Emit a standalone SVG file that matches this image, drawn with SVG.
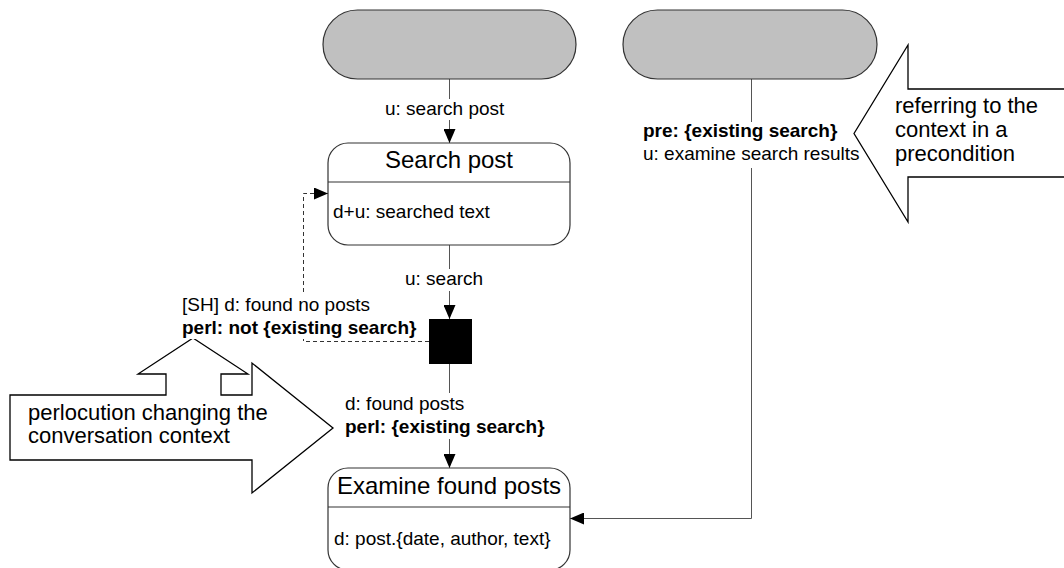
<svg xmlns="http://www.w3.org/2000/svg" width="1064" height="568" viewBox="0 0 1064 568">
  <style>
    text { font-family: "Liberation Sans", Arial, sans-serif; fill: #000; }
    .lbl { font-size: 19px; }
    .b { font-weight: bold; }
    .title { font-size: 24px; text-anchor: middle; }
    .note { font-size: 22px; }
    .pill { fill: #c0c0c0; stroke: #333; stroke-width: 1.2; }
    .state { fill: #fff; stroke: #333; stroke-width: 1.2; }
    .div { stroke: #333; stroke-width: 1.2; }
    .conn { fill: none; stroke: #555; stroke-width: 1; }
    .dash { fill: none; stroke: #333; stroke-width: 1; stroke-dasharray: 4 3; }
    .callout { fill: #fff; stroke: #000; stroke-width: 1.3; stroke-linejoin: miter; }
    .bg { fill: #fff; }
  </style>
  <defs>
    <marker id="arrow" viewBox="0 0 14 12" refX="14" refY="6" markerWidth="14" markerHeight="12" markerUnits="userSpaceOnUse" orient="auto">
      <path d="M0,0 L14,6 L0,12 Z" fill="#000"/>
    </marker>
  </defs>

  <!-- call-out arrows -->
  <g id="note-precondition">
    <polygon class="callout" points="854,133.5 908,45 908,89 1070,89 1070,177 908,177 908,222"/>
    <text class="note" x="895" y="113">referring to the</text>
    <text class="note" x="895" y="137">context in a</text>
    <text class="note" x="895" y="161">precondition</text>
  </g>
  <g id="note-perlocution">
    <polygon class="callout" points="10,395 166,395 166,374 138,374 193,338 248,374 221,374 221,395 252,395 252,363 333,428 252,493 252,460 10,460"/>
    <text class="note" x="28" y="420">perlocution changing the</text>
    <text class="note" x="28" y="443">conversation context</text>
  </g>

  <!-- connectors -->
  <g id="connectors">
    <line class="conn" x1="449.5" y1="79" x2="449.5" y2="143" marker-end="url(#arrow)"/>
    <line class="conn" x1="449.5" y1="245" x2="449.5" y2="319" marker-end="url(#arrow)"/>
    <line class="conn" x1="449.5" y1="364" x2="449.5" y2="468" marker-end="url(#arrow)"/>
    <polyline class="conn" points="751.5,79 751.5,518.5 570,518.5" marker-end="url(#arrow)"/>
    <polyline class="dash" points="429,341.5 303.5,341.5 303.5,193.5 328,193.5" marker-end="url(#arrow)"/>

    <!-- transition labels -->
    <rect class="bg" x="384" y="99" width="124" height="21"/>
    <text class="lbl" x="385" y="115">u: search post</text>

    <rect class="bg" x="404" y="269" width="84" height="22"/>
    <text class="lbl" x="405" y="285">u: search</text>

    <rect class="bg" x="180" y="295" width="240" height="44"/>
    <text class="lbl" x="182" y="311">[SH] d: found no posts</text>
    <text class="lbl b" x="182" y="334">perl: not {existing search}</text>

    <rect class="bg" x="343" y="393" width="208" height="46"/>
    <text class="lbl" x="345" y="410">d: found posts</text>
    <text class="lbl b" x="345" y="433">perl: {existing search}</text>

    <rect class="bg" x="641" y="122" width="212" height="46"/>
    <text class="lbl b" x="643" y="137">pre: {existing search}</text>
    <text class="lbl" x="643" y="160">u: examine search results</text>
  </g>

  <!-- initial states -->
  <g id="start-search">
    <rect class="pill" x="323" y="10" width="253" height="69" rx="34.5"/>
  </g>
  <g id="start-examine">
    <rect class="pill" x="623" y="10" width="254" height="69" rx="34.5"/>
  </g>

  <!-- states -->
  <g id="search-post">
    <rect class="state" x="328" y="143" width="242" height="102" rx="20"/>
    <line class="div" x1="328" y1="182" x2="570" y2="182"/>
    <text class="title" x="449" y="168">Search post</text>
    <text class="lbl" x="333" y="218">d+u: searched text</text>
  </g>

  <g id="decision">
    <rect x="429" y="319" width="43" height="45" fill="#000"/>
  </g>

  <g id="examine-found-posts">
    <rect class="state" x="328" y="468" width="242" height="102" rx="20"/>
    <line class="div" x1="328" y1="507" x2="570" y2="507"/>
    <text class="title" x="449" y="494">Examine found posts</text>
    <text class="lbl" x="334" y="545">d: post.{date, author, text}</text>
  </g>
</svg>
